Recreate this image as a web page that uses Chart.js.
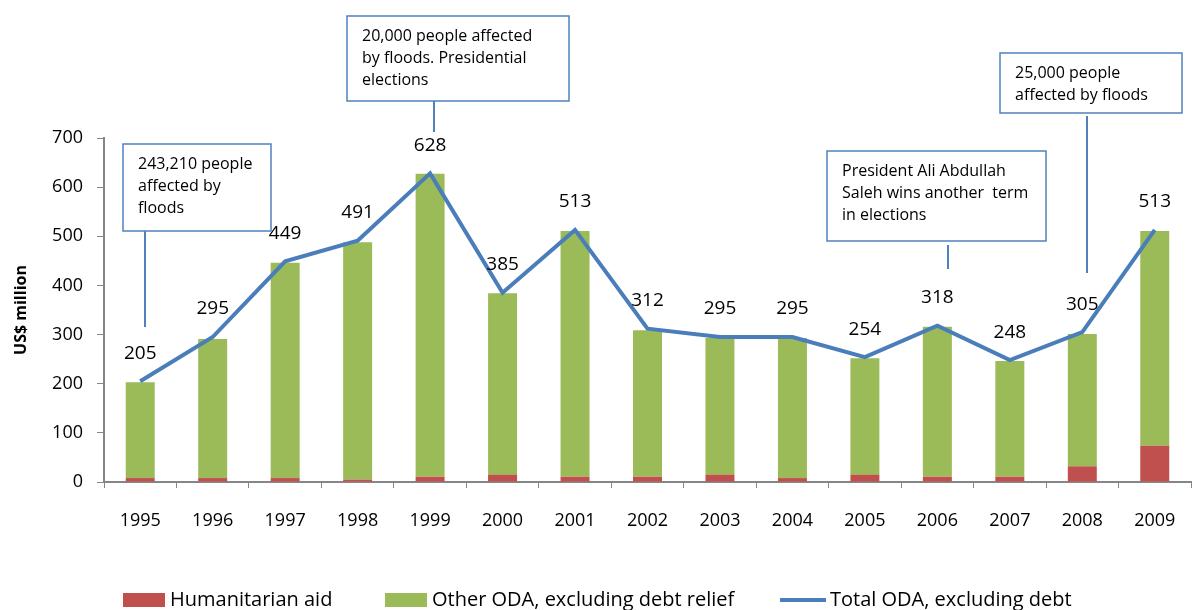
<!DOCTYPE html>
<html>
<head>
<meta charset="utf-8">
<script src="https://cdn.jsdelivr.net/npm/chart.js@4.4.0/dist/chart.umd.min.js"></script>
<style>
  html, body { margin: 0; padding: 0; background: #ffffff; }
  #wrap { width: 1201px; height: 610px; position: relative; }
</style>
</head>
<body>
<div id="wrap"><canvas id="c" width="1201" height="610"></canvas></div>
<script>
const years = ["1995","1996","1997","1998","1999","2000","2001","2002","2003","2004","2005","2006","2007","2008","2009"];
const humanitarian = [8, 8, 8, 5, 11, 15, 11, 11, 15, 8, 15, 11, 11, 32, 74];
const otherODA = [195, 283, 438, 483, 616, 369, 500, 298, 278, 285, 237, 305, 235, 269, 437];
const totalODA = [205, 295, 449, 491, 628, 385, 513, 312, 295, 295, 254, 318, 248, 305, 513];
const yTicks = [0, 100, 200, 300, 400, 500, 600, 700];
const seriesNames = ["Humanitarian aid", "Other ODA, excluding debt relief", "Total ODA, excluding debt"];

const notes = [
  { lines: ["243,210 people", "affected by", "floods"], box: [123, 144, 271, 231], line: [145, 231, 145, 327] },
  { lines: ["20,000 people affected", "by floods. Presidential", "elections"], box: [347, 16, 569, 101], line: [434, 101, 434, 132] },
  { lines: ["President Ali Abdullah", "Saleh wins another  term", "in elections"], box: [827, 151, 1046, 241], line: [948, 245, 948, 269] },
  { lines: ["25,000 people", "affected by floods"], box: [1000, 53, 1182, 113], line: [1087, 116, 1087, 273] }
];

const FONT = "'Open Sans', 'Liberation Sans', sans-serif";

const extras = {
  id: 'extras',
  afterDatasetsDraw(chart) {
    const ctx = chart.ctx;
    const meta = chart.getDatasetMeta(2);
    ctx.save();
    ctx.fillStyle = '#000000';
    ctx.font = "19px " + FONT;
    ctx.textAlign = 'center';
    ctx.textBaseline = 'middle';
    meta.data.forEach((pt, i) => {
      ctx.fillText(String(totalODA[i]), pt.x, pt.y - 28);
    });
    notes.forEach(n => {
      const [x0, y0, x1, y1] = n.box;
      ctx.fillStyle = '#ffffff';
      ctx.fillRect(x0, y0, x1 - x0, y1 - y0);
      ctx.strokeStyle = '#4f81bd';
      ctx.lineWidth = 1.5;
      ctx.strokeRect(x0, y0, x1 - x0, y1 - y0);
      ctx.beginPath();
      ctx.moveTo(n.line[0], n.line[1]);
      ctx.lineTo(n.line[2], n.line[3]);
      ctx.lineWidth = 2;
      ctx.stroke();
      ctx.fillStyle = '#000000';
      ctx.font = "16px " + FONT;
      ctx.textAlign = 'left';
      ctx.textBaseline = 'middle';
      n.lines.forEach((t, k) => {
        ctx.fillText(t, x0 + 15, y0 + 20 + k * 22);
      });
    });
    // legend
    const ds = chart.data.datasets;
    const items = [
      { x: 123, kind: 'rect', color: ds[0].backgroundColor, text: seriesNames[0] },
      { x: 385, kind: 'rect', color: ds[1].backgroundColor, text: seriesNames[1] },
      { x: 780, kind: 'line', color: ds[2].borderColor, text: seriesNames[2] }
    ];
    const ly = 600;
    ctx.font = "20px " + FONT;
    ctx.textBaseline = 'middle';
    ctx.textAlign = 'left';
    items.forEach(it => {
      if (it.kind === 'rect') {
        ctx.fillStyle = it.color;
        ctx.fillRect(it.x, ly - 7, 42, 14);
        ctx.fillStyle = '#000000';
        ctx.fillText(it.text, it.x + 47, ly);
      } else {
        ctx.strokeStyle = it.color;
        ctx.lineWidth = 4;
        ctx.beginPath();
        ctx.moveTo(it.x, ly);
        ctx.lineTo(it.x + 46, ly);
        ctx.stroke();
        ctx.fillStyle = '#000000';
        ctx.fillText(it.text, it.x + 50, ly);
      }
    });
    ctx.restore();
  }
};

new Chart(document.getElementById('c'), {
  type: 'bar',
  data: {
    labels: years,
    datasets: [
      { label: seriesNames[0], data: humanitarian, backgroundColor: '#c0504d', stack: 'bars', order: 2,
        barPercentage: 0.4, categoryPercentage: 1.0 },
      { label: seriesNames[1], data: otherODA, backgroundColor: '#9bbb59', stack: 'bars', order: 2,
        barPercentage: 0.4, categoryPercentage: 1.0 },
      { type: 'line', label: seriesNames[2], data: totalODA, borderColor: '#4a7ebb', backgroundColor: '#4a7ebb',
        borderWidth: 4, pointRadius: 0, tension: 0, stack: 'line', order: 1 }
    ]
  },
  options: {
    responsive: false,
    animation: false,
    layout: { padding: { top: 138, right: 10, left: 0, bottom: 78 } },
    plugins: {
      tooltip: { enabled: false },
      legend: { display: false }
    },
    scales: {
      x: {
        stacked: true,
        grid: { display: true, drawOnChartArea: false, tickLength: 6, color: '#868686', offset: true },
        border: { display: true, color: '#868686', width: 2 },
        ticks: { color: '#000000', font: { family: FONT, size: 18 }, padding: 22, maxRotation: 0 },
        afterFit(s) { s.height = 50; }
      },
      y: {
        stacked: true,
        min: 0, max: 700,
        afterBuildTicks(s) { s.ticks = yTicks.map(v => ({ value: v })); },
        grid: { display: true, drawOnChartArea: false, tickLength: 7, color: '#868686' },
        border: { display: true, color: '#868686', width: 2 },
        ticks: { color: '#000000', font: { family: FONT, size: 18 }, padding: 14 },
        title: { display: true, text: 'US$ million', color: '#000000', font: { family: FONT, size: 16, weight: 'bold' }, padding: { top: 12, bottom: 0 } },
        afterFit(s) { s.width = 104; }
      }
    }
  },
  plugins: [extras]
});
</script>
</body>
</html>
